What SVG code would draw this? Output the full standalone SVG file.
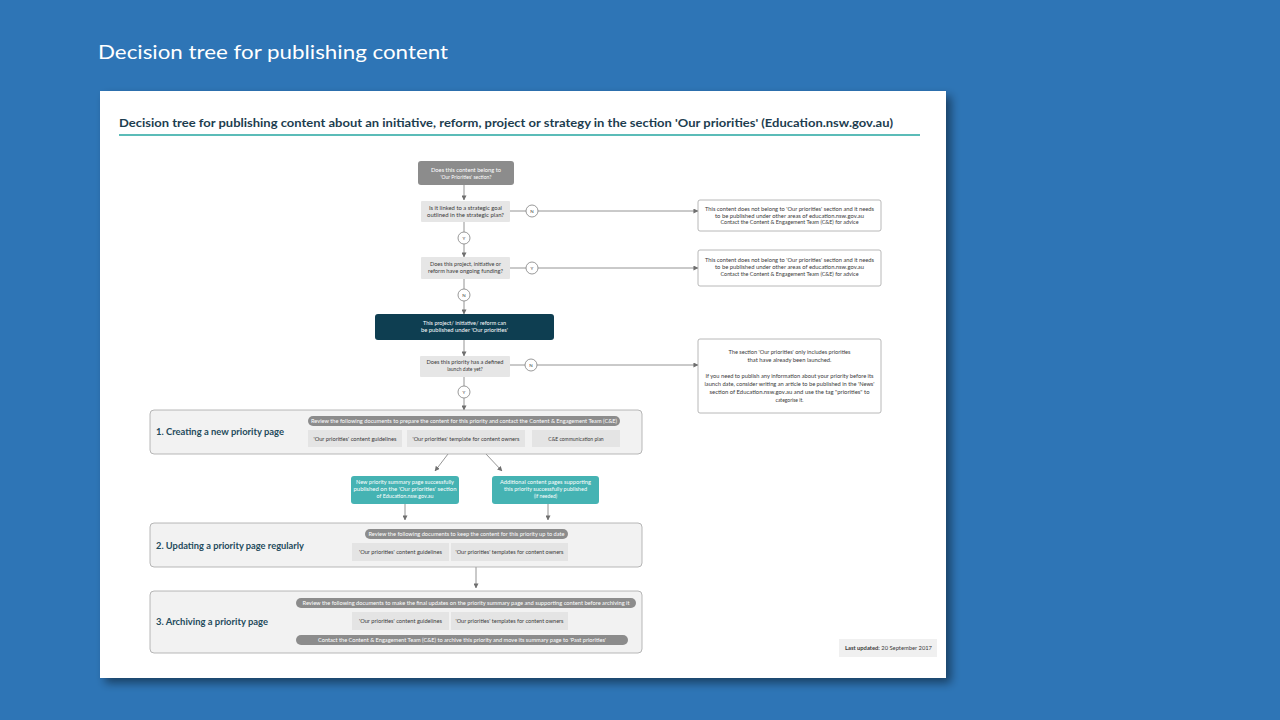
<svg xmlns="http://www.w3.org/2000/svg" width="1280" height="720" viewBox="0 0 1280 720">
<defs>
<filter id="sh" x="-5%" y="-5%" width="115%" height="115%">
<feDropShadow dx="5" dy="5" stdDeviation="5" flood-color="#000" flood-opacity="0.45"/>
</filter>
<marker id="ah" viewBox="0 0 6 6" refX="5.5" refY="3" markerWidth="5" markerHeight="5" markerUnits="userSpaceOnUse" orient="auto">
<path d="M0,0 L6,3 L0,6 z" fill="#6f6f6f"/>
</marker>
</defs>
<style>
.t{font-family:Lato,"Open Sans","Liberation Sans",sans-serif}
.s{font-size:5px;text-anchor:middle}
.w{fill:#ffffff}
.d{fill:#3a3a3a}
.q{fill:#e6e6e6}
.sec{fill:#f2f2f2;stroke:#a6a6a6;stroke-width:0.8}
.pill{fill:#8c8c8c}
.doc{fill:#e4e4e4}
.rb{fill:#ffffff;stroke:#a6a6a6;stroke-width:0.8}
.cir{fill:#ffffff;stroke:#7f7f7f;stroke-width:0.8}
.lab{font-size:8.5px;font-weight:bold;fill:#1f4b5c}
.c{fill:none;stroke:#7a7a7a;stroke-width:0.8}
.ca{fill:none;stroke:#7a7a7a;stroke-width:0.8;marker-end:url(#ah)}
.cl{font-size:4.5px;text-anchor:middle;fill:#444}
</style>
<rect x="0" y="0" width="1280" height="720" fill="#2E75B6"/>
<text x="98" y="59" class="t" font-size="20" fill="#ffffff" textLength="350" lengthAdjust="spacingAndGlyphs">Decision tree for publishing content</text>

<rect x="100" y="91" width="846" height="587" fill="#ffffff" filter="url(#sh)"/>
<text x="119" y="127" class="t" font-size="12" fill="#1d3d4f" font-weight="bold" textLength="774" lengthAdjust="spacingAndGlyphs">Decision tree for publishing content about an initiative, reform, project or strategy in the section 'Our priorities' (Education.nsw.gov.au)</text>
<line x1="119" y1="135" x2="920" y2="135" stroke="#5bbcb8" stroke-width="2"/>

<g id="connectors">
<line class="ca" x1="464" y1="185" x2="464" y2="200"/>
<line class="c" x1="510" y1="211" x2="526" y2="211"/>
<line class="ca" x1="538" y1="211" x2="698" y2="211"/>
<line class="c" x1="464" y1="222" x2="464" y2="232"/>
<line class="ca" x1="464" y1="244" x2="464" y2="257"/>
<line class="c" x1="510" y1="268" x2="526" y2="268"/>
<line class="ca" x1="538" y1="268" x2="698" y2="268"/>
<line class="c" x1="464" y1="279" x2="464" y2="289"/>
<line class="ca" x1="464" y1="301" x2="464" y2="314"/>
<line class="ca" x1="464" y1="340" x2="464" y2="356"/>
<line class="c" x1="510" y1="365" x2="525" y2="365"/>
<line class="ca" x1="537" y1="365" x2="698" y2="365"/>
<line class="c" x1="464" y1="377" x2="464" y2="386"/>
<line class="ca" x1="464" y1="398" x2="464" y2="410"/>
<line class="ca" x1="448" y1="454" x2="435" y2="471"/>
<line class="ca" x1="486" y1="454" x2="502" y2="471"/>
<line class="ca" x1="405" y1="504" x2="405" y2="520"/>
<line class="ca" x1="548" y1="504" x2="548" y2="520"/>
<line class="ca" x1="476" y1="567" x2="476" y2="588"/>
</g>

<g id="start">
<rect x="418" y="161" width="96" height="24" rx="3" fill="#8c8c8c"/>
<text class="t s w" x="466" y="171.5" textLength="70" lengthAdjust="spacingAndGlyphs">Does this content belong to</text>
<text class="t s w" x="466" y="178.5">'Our Priorities' section?</text>
</g>

<g id="q1">
<rect x="421" y="201" width="89" height="21" rx="1" class="q"/>
<text class="t s d" x="465.5" y="209.5" textLength="73" lengthAdjust="spacingAndGlyphs">Is it linked to a strategic goal</text>
<text class="t s d" x="465.5" y="216.5" textLength="77" lengthAdjust="spacingAndGlyphs">outlined in the strategic plan?</text>
</g>
<g id="c-n1"><circle class="cir" cx="532" cy="211" r="6"/><text class="t cl" x="532" y="212.6">N</text></g>
<g id="c-y1"><circle class="cir" cx="464" cy="238" r="6"/><text class="t cl" x="464" y="239.6">Y</text></g>

<g id="r1">
<rect x="698" y="200" width="183" height="31" rx="2" class="rb"/>
<text class="t s d" x="789.5" y="211" textLength="169" lengthAdjust="spacingAndGlyphs">This content does not belong to 'Our priorities' section and it needs</text>
<text class="t s d" x="789.5" y="217.5" textLength="149" lengthAdjust="spacingAndGlyphs">to be published under other areas of education.nsw.gov.au</text>
<text class="t s d" x="789.5" y="224" textLength="138" lengthAdjust="spacingAndGlyphs">Contact the Content &amp; Engagement Team (C&amp;E) for advice</text>
</g>

<g id="q2">
<rect x="421" y="257" width="89" height="22" rx="1" class="q"/>
<text class="t s d" x="465.5" y="265.5" textLength="71" lengthAdjust="spacingAndGlyphs">Does this project, initiative or</text>
<text class="t s d" x="465.5" y="272.5" textLength="75" lengthAdjust="spacingAndGlyphs">reform have ongoing funding?</text>
</g>
<g id="c-y2"><circle class="cir" cx="532" cy="268" r="6"/><text class="t cl" x="532" y="269.6">Y</text></g>
<g id="c-n2"><circle class="cir" cx="464" cy="295" r="6"/><text class="t cl" x="464" y="296.6">N</text></g>

<g id="r2">
<rect x="698" y="250" width="183" height="36" rx="2" class="rb"/>
<text class="t s d" x="789.5" y="262" textLength="169" lengthAdjust="spacingAndGlyphs">This content does not belong to 'Our priorities' section and it needs</text>
<text class="t s d" x="789.5" y="269" textLength="149" lengthAdjust="spacingAndGlyphs">to be published under other areas of education.nsw.gov.au</text>
<text class="t s d" x="789.5" y="276" textLength="138" lengthAdjust="spacingAndGlyphs">Contact the Content &amp; Engagement Team (C&amp;E) for advice</text>
</g>

<g id="published">
<rect x="375" y="314" width="179" height="26" rx="3" fill="#0e3e51"/>
<text class="t s w" x="464.5" y="324.5" textLength="83" lengthAdjust="spacingAndGlyphs">This project/ initiative/ reform can</text>
<text class="t s w" x="464.5" y="332" textLength="87" lengthAdjust="spacingAndGlyphs">be published under 'Our priorities'</text>
</g>

<g id="q3">
<rect x="420" y="356" width="90" height="21" rx="1" class="q"/>
<text class="t s d" x="465" y="363.5" textLength="77" lengthAdjust="spacingAndGlyphs">Does this priority has a defined</text>
<text class="t s d" x="465" y="370.5">launch date yet?</text>
</g>
<g id="c-n3"><circle class="cir" cx="531" cy="365" r="6"/><text class="t cl" x="531" y="366.6">N</text></g>
<g id="c-y3"><circle class="cir" cx="464" cy="392" r="6"/><text class="t cl" x="464" y="393.6">Y</text></g>

<g id="r3">
<rect x="698" y="339" width="183" height="74" rx="2" class="rb"/>
<text class="t s d" x="789.5" y="353.5" textLength="122" lengthAdjust="spacingAndGlyphs">The section 'Our priorities' only includes priorities</text>
<text class="t s d" x="789.5" y="361.5" textLength="84" lengthAdjust="spacingAndGlyphs">that have already been launched.</text>
<text class="t s d" x="789.5" y="377.5" textLength="168" lengthAdjust="spacingAndGlyphs">If you need to publish any information about your priority before its</text>
<text class="t s d" x="789.5" y="385.5" textLength="170" lengthAdjust="spacingAndGlyphs">launch date, consider writing an article to be published in the 'News'</text>
<text class="t s d" x="789.5" y="393.5" textLength="160" lengthAdjust="spacingAndGlyphs">section of Education.nsw.gov.au and use the tag "priorities" to</text>
<text class="t s d" x="789.5" y="401.5">categorise it.</text>
</g>

<g id="section1">
<rect x="150" y="410" width="492" height="44" rx="4" class="sec"/>
<text class="t lab" x="156" y="434.5" textLength="128" lengthAdjust="spacingAndGlyphs">1. Creating a new priority page</text>
<rect x="308" y="416" width="312" height="10" rx="5" class="pill"/>
<text class="t s w" x="464" y="422.7" font-size="4.6" textLength="306" lengthAdjust="spacingAndGlyphs">Review the following documents to prepare the content for this priority and contact the Content &amp; Engagement Team (C&amp;E)</text>
<rect x="308" y="430" width="94" height="17" class="doc"/>
<text class="t s d" x="355" y="440.5" textLength="83" lengthAdjust="spacingAndGlyphs">'Our priorities' content guidelines</text>
<rect x="407" y="430" width="118" height="17" class="doc"/>
<text class="t s d" x="466" y="440.5" textLength="107" lengthAdjust="spacingAndGlyphs">'Our priorities' template for content owners</text>
<rect x="532" y="430" width="88" height="17" class="doc"/>
<text class="t s d" x="576" y="440.5">C&amp;E communication plan</text>
</g>

<g id="teal1">
<rect x="351" y="476" width="108" height="28" rx="3" fill="#45b3b3"/>
<text class="t s w" x="405" y="483.5" textLength="98" lengthAdjust="spacingAndGlyphs">New priority summary page successfully</text>
<text class="t s w" x="405" y="490.5" textLength="103" lengthAdjust="spacingAndGlyphs">published on the 'Our priorities' section</text>
<text class="t s w" x="405" y="497.5" textLength="57" lengthAdjust="spacingAndGlyphs">of Education.nsw.gov.au</text>
</g>
<g id="teal2">
<rect x="492" y="476" width="107" height="28" rx="3" fill="#45b3b3"/>
<text class="t s w" x="545.5" y="483.5" textLength="91" lengthAdjust="spacingAndGlyphs">Additional content pages supporting</text>
<text class="t s w" x="545.5" y="490.5" textLength="83" lengthAdjust="spacingAndGlyphs">this priority successfully published</text>
<text class="t s w" x="545.5" y="497.5">(if needed)</text>
</g>

<g id="section2">
<rect x="150" y="523" width="492" height="44" rx="4" class="sec"/>
<text class="t lab" x="156" y="548.5" textLength="148" lengthAdjust="spacingAndGlyphs">2. Updating a priority page regularly</text>
<rect x="365" y="529" width="203" height="10" rx="5" class="pill"/>
<text class="t s w" x="466.5" y="535.7" font-size="4.6" textLength="196" lengthAdjust="spacingAndGlyphs">Review the following documents to keep the content for this priority up to date</text>
<rect x="352" y="543" width="97" height="18" class="doc"/>
<text class="t s d" x="400.5" y="553.5" textLength="83" lengthAdjust="spacingAndGlyphs">'Our priorities' content guidelines</text>
<rect x="451" y="543" width="117" height="18" class="doc"/>
<text class="t s d" x="509.5" y="553.5" textLength="108" lengthAdjust="spacingAndGlyphs">'Our priorities' templates for content owners</text>
</g>

<g id="section3">
<rect x="150" y="591" width="492" height="62" rx="4" class="sec"/>
<text class="t lab" x="156" y="624.5" textLength="112" lengthAdjust="spacingAndGlyphs">3. Archiving a priority page</text>
<rect x="296" y="598" width="340" height="10" rx="5" class="pill"/>
<text class="t s w" x="466" y="604.7" font-size="4.6" textLength="327" lengthAdjust="spacingAndGlyphs">Review the following documents to make the final updates on the priority summary page and supporting content before archiving it</text>
<rect x="352" y="612" width="97" height="18" class="doc"/>
<text class="t s d" x="400.5" y="622.5" textLength="83" lengthAdjust="spacingAndGlyphs">'Our priorities' content guidelines</text>
<rect x="451" y="612" width="117" height="18" class="doc"/>
<text class="t s d" x="509.5" y="622.5" textLength="108" lengthAdjust="spacingAndGlyphs">'Our priorities' templates for content owners</text>
<rect x="296" y="635" width="332" height="10" rx="5" class="pill"/>
<text class="t s w" x="462" y="641.7" font-size="4.6" textLength="288" lengthAdjust="spacingAndGlyphs">Contact the Content &amp; Engagement Team (C&amp;E) to archive this priority and move its summary page to 'Past priorities'</text>
</g>

<g id="updated">
<rect x="839" y="639" width="98" height="18" fill="#f0f0f0"/>
<text class="t d" x="845" y="650" font-size="5" textLength="87" lengthAdjust="spacingAndGlyphs"><tspan font-weight="bold">Last updated:</tspan> 20 September 2017</text>
</g>
</svg>
